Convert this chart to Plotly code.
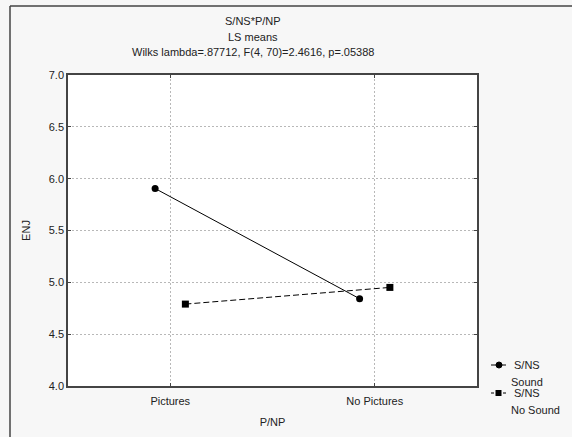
import plotly.graph_objects as go

categories = ["Pictures", "No Pictures"]
sound = [5.905, 4.842]
no_sound = [4.79, 4.951]
series_top = ["S/NS", "S/NS"]
series_bottom = ["Sound", "No Sound"]
y_ticks = [4.0, 4.5, 5.0, 5.5, 6.0, 6.5, 7.0]

offset = 0.074
idx = list(range(len(categories)))
FONT = "Liberation Sans"
TXT = "#222222"

fig = go.Figure()
fig.add_trace(go.Scatter(
    x=[i - offset for i in idx], y=sound, name="S/NS Sound", mode="lines+markers",
    line=dict(color="black", width=1), marker=dict(symbol="circle", size=7, color="black")))
fig.add_trace(go.Scatter(
    x=[i + offset for i in idx], y=no_sound, name="S/NS No Sound", mode="lines+markers",
    line=dict(color="black", width=1, dash="6px,3px"), marker=dict(symbol="square", size=7, color="black")))

W, H = 572, 437
L, R, T, B = 68, 95, 75, 51
pw, ph = W - L - R, H - T - B

def px(x):
    return (x - L) / pw

def py(y):
    return (H - B - y) / ph

axis_common = dict(showline=True, linecolor="#444444", linewidth=1.5, mirror="ticks",
                   ticks="inside", ticklen=3, tickcolor="#444444",
                   showgrid=True, gridcolor="#b8b8b8", griddash="2px,2px", gridwidth=1,
                   zeroline=False, tickfont=dict(family=FONT, size=11, color=TXT))

fig.update_layout(
    width=W, height=H, margin=dict(l=L, r=R, t=T, b=B, autoexpand=False),
    paper_bgcolor="#f7f7f7", plot_bgcolor="white",
    font=dict(family=FONT, size=11, color=TXT),
    xaxis=dict(range=[-0.5, 1.5], tickvals=idx, ticktext=categories, ticklabelstandoff=4,
               title=dict(text="P/NP", font=dict(size=11), standoff=12), **axis_common),
    yaxis=dict(range=[4.0, 7.0], tickvals=y_ticks, tickformat=".1f",
               title=dict(text="ENJ", font=dict(size=11), standoff=16), **axis_common),
    showlegend=False,
)

titles = ["S/NS*P/NP", "LS means", "Wilks lambda=.87712, F(4, 70)=2.4616, p=.05388"]
for t, yy in zip(titles, [21, 37, 52]):
    fig.add_annotation(text=t, xref="paper", yref="paper", x=px(253), y=py(yy),
                       showarrow=False, xanchor="center", yanchor="middle",
                       font=dict(family=FONT, size=11, color=TXT))

# manual legend
leg_rows = [365, 393]
for k, yy in enumerate(leg_rows):
    fig.add_shape(type="line", xref="paper", yref="paper", x0=px(491), x1=px(506),
                  y0=py(yy), y1=py(yy), line=dict(color="black", width=1, dash="solid" if k == 0 else "dot"))
    if k == 0:
        fig.add_shape(type="circle", xref="paper", yref="paper", x0=px(496), x1=px(502),
                      y0=py(yy + 3), y1=py(yy - 3), fillcolor="black", line=dict(color="black", width=1))
    else:
        fig.add_shape(type="rect", xref="paper", yref="paper", x0=px(495.5), x1=px(501.5),
                      y0=py(yy + 3), y1=py(yy - 3), fillcolor="black", line=dict(color="black", width=0))
    fig.add_annotation(text=series_top[k], xref="paper", yref="paper", x=px(512), y=py(yy),
                       showarrow=False, xanchor="left", yanchor="middle",
                       font=dict(family=FONT, size=11, color=TXT))
    fig.add_annotation(text=series_bottom[k], xref="paper", yref="paper", x=px(509), y=py(yy + 16.5),
                       showarrow=False, xanchor="left", yanchor="middle",
                       font=dict(family=FONT, size=11, color=TXT))

# outer frame
fig.add_shape(type="line", xref="paper", yref="paper", x0=px(10), x1=px(575), y0=py(6), y1=py(6),
              line=dict(color="#444444", width=1.5))
fig.add_shape(type="line", xref="paper", yref="paper", x0=px(10), x1=px(10), y0=py(6), y1=py(440),
              line=dict(color="#444444", width=1.5))

fig.write_html("out.html", config={"displayModeBar": False},
               post_script="document.body.style.margin='0';document.body.style.overflow='hidden';")
